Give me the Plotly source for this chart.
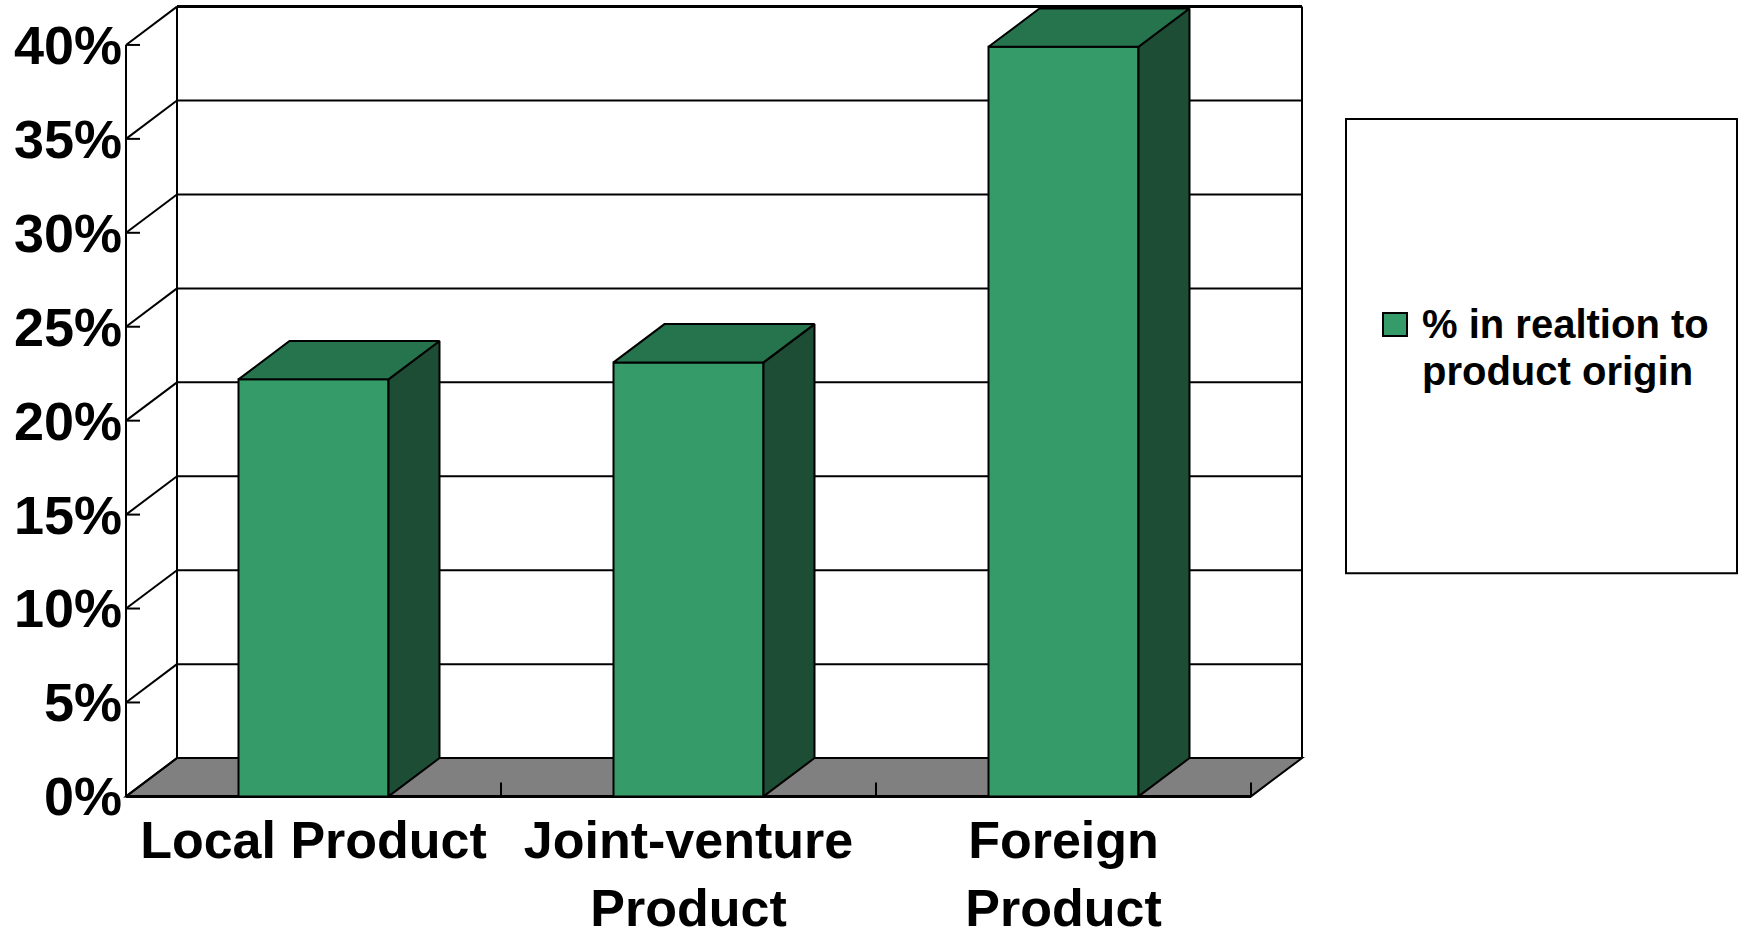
import plotly.graph_objects as go

# ---------------- data ----------------
categories = ["Local Product", "Joint-venture<br>Product", "Foreign<br>Product"]
values = [22.2, 23.1, 39.9]
y_ticks = [0, 5, 10, 15, 20, 25, 30, 35, 40]
y_tick_labels = ["0%", "5%", "10%", "15%", "20%", "25%", "30%", "35%", "40%"]
series_line1 = "% in realtion to"
series_line2 = "product origin"

# ---------------- styling / geometry ----------------
W, H = 1744, 937
PX_X = 375.0          # pixels per category unit
PX_Y = 18.775         # pixels per percent
DX = 51.0 / PX_X      # depth offset (x) in category units
DY = 38.3 / PX_Y      # depth offset (y) in percent units
BAR_W = 0.4
FRONT = "#359B68"
TOP = "#26744E"
SIDE = "#1D4D34"
FLOOR = "#808080"
FONT = "Liberation Sans, Arial, sans-serif"

AXIS_MAX = y_ticks[-1]
X_LO, X_HI = -0.5, len(categories) - 0.5
pad_x = 3 / PX_X
pad_y = 5.6 / PX_Y
xr = [X_LO - pad_x, X_HI + DX + pad_x]
yr = [-pad_y, AXIS_MAX + DY + pad_y]
front_left_px = 126
zero_px = 796
m_l = front_left_px - pad_x * PX_X
plot_w = (xr[1] - xr[0]) * PX_X
m_r = W - m_l - plot_w
m_b = H - (zero_px + pad_y * PX_Y)
plot_h = (yr[1] - yr[0]) * PX_Y
m_t = H - m_b - plot_h

fig = go.Figure()
shapes = []


def line(x0, y0, x1, y1, width=2, layer="below"):
    shapes.append(dict(type="line", xref="x", yref="y", x0=x0, y0=y0, x1=x1, y1=y1,
                       line=dict(color="black", width=width), layer=layer))


# floor
shapes.append(dict(type="path", xref="x", yref="y", layer="below",
                    path=f"M {X_LO},0 L {X_HI},0 L {X_HI+DX},{DY} L {X_LO+DX},{DY} Z",
                    fillcolor=FLOOR, line=dict(color="black", width=2)))
# back wall gridlines
for v in y_ticks:
    line(X_LO + DX, v + DY, X_HI + DX, v + DY, width=3 if v == AXIS_MAX else 2)
# back wall verticals
line(X_LO + DX, DY, X_LO + DX, AXIS_MAX + DY)
line(X_HI + DX, DY, X_HI + DX, AXIS_MAX + DY)
# left wall diagonals
for v in y_ticks:
    line(X_LO, v, X_LO + DX, v + DY)
# front y axis + ticks
line(X_LO, 0, X_LO, AXIS_MAX)
for v in y_ticks:
    line(X_LO, v, X_LO + 14 / PX_X, v)
# floor front edge
line(X_LO, 0, X_HI, 0, width=3)
# category boundary ticks on floor
for k in range(1, len(categories) + 1):
    line(X_LO + k, 0, X_LO + k, 14 / PX_Y)

# bars (3D faces)
for i, v in enumerate(values):
    xl, xh = i - BAR_W / 2, i + BAR_W / 2
    faces = [
        ([xl, xh, xh, xl, xl], [0, 0, v, v, 0], FRONT),
        ([xh, xh + DX, xh + DX, xh, xh], [0, DY, v + DY, v, 0], SIDE),
        ([xl, xh, xh + DX, xl + DX, xl], [v, v, v + DY, v + DY, v], TOP),
    ]
    for fx, fy, col in faces:
        fig.add_trace(go.Scatter(x=fx, y=fy, mode="lines", fill="toself", fillcolor=col,
                                 line=dict(color="black", width=2), hoverinfo="skip",
                                 showlegend=False))


# legend (box, swatch, text) in pixel-derived paper coordinates
def px_to_paper_x(px):
    return (px - m_l) / plot_w


def px_to_paper_y(py):
    return (H - m_b - py) / plot_h


shapes.append(dict(type="rect", xref="paper", yref="paper",
                   x0=px_to_paper_x(1346), x1=px_to_paper_x(1737),
                   y0=px_to_paper_y(573), y1=px_to_paper_y(119),
                   line=dict(color="black", width=2), fillcolor="white", layer="above"))
shapes.append(dict(type="rect", xref="paper", yref="paper",
                   x0=px_to_paper_x(1383), x1=px_to_paper_x(1407),
                   y0=px_to_paper_y(336), y1=px_to_paper_y(313),
                   line=dict(color="black", width=2), fillcolor=FRONT, layer="above"))
annotations = []
for txt, cy in [(series_line1, 324), (series_line2, 371)]:
    annotations.append(dict(text=txt, xref="paper", yref="paper", x=px_to_paper_x(1420),
                            y=px_to_paper_y(cy), xanchor="left", yanchor="middle",
                            showarrow=False,
                            font=dict(family=FONT, size=40, color="black", weight="bold")))

fig.update_layout(
    width=W, height=H,
    margin=dict(l=m_l, r=m_r, t=m_t, b=m_b, autoexpand=False),
    plot_bgcolor="white", paper_bgcolor="white",
    showlegend=False,
    shapes=shapes,
    annotations=annotations,
    xaxis=dict(range=xr, tickvals=list(range(len(categories))), ticktext=categories,
               showgrid=False, zeroline=False, showline=False, ticks="",
               ticklabelstandoff=3,
               tickfont=dict(family=FONT, size=52, color="black", weight="bold")),
    yaxis=dict(range=yr, tickvals=y_ticks, ticktext=y_tick_labels,
               showgrid=False, zeroline=False, showline=False, ticks="",
               tickfont=dict(family=FONT, size=54, color="black", weight="bold")),
)

fig.write_html("out.html", config={"displayModeBar": False},
               post_script="document.body.style.margin='0';document.body.style.overflow='hidden';")
